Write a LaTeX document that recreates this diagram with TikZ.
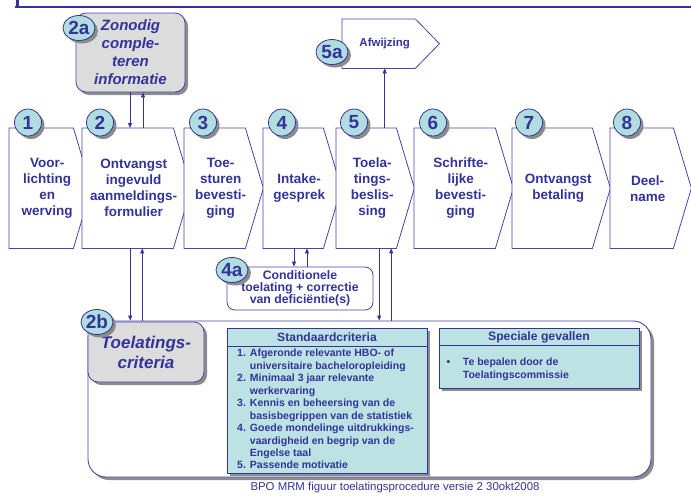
\documentclass[tikz,border=0pt]{standalone}
\usepackage{fontspec}
\setmainfont{Liberation Sans}
\usetikzlibrary{arrows.meta,shapes.geometric,shadows,calc}
\definecolor{dblue}{HTML}{333399}
\definecolor{lblue}{HTML}{4646A6}
\definecolor{cyanfill}{HTML}{BCE2E4}
\definecolor{circfill}{HTML}{B2DDE0}
\definecolor{grayfill}{HTML}{DCDCDC}
\pgfdeclarelayer{bg}
\pgfsetlayers{bg,main}
\tikzset{
  every node/.style={text=dblue},
  shadowed/.style={drop shadow={shadow xshift=3pt, shadow yshift=-3pt, opacity=1, fill=black!45}},
  stepbox/.style={minimum height=120pt, inner sep=0pt, align=center, anchor=north west,
    font=\fontsize{13.5}{16}\selectfont\bfseries},
  stepshape/.style={draw=lblue, fill=white, line width=0.8pt},
  numc/.style={circle, draw=dblue, fill=circfill, line width=0.8pt, minimum size=27pt, inner sep=0pt,
    font=\fontsize{19}{19}\selectfont\bfseries, shadowed},
  nume/.style={ellipse, draw=dblue, fill=circfill, line width=0.8pt, minimum width=32pt, minimum height=25pt,
    inner sep=0pt, font=\fontsize{19}{19}\selectfont\bfseries, shadowed},
  graybox/.style={rectangle, rounded corners=10pt, draw=lblue, fill=grayfill, line width=0.8pt,
    inner sep=0pt, align=center, shadowed},
  whitebox/.style={rectangle, rounded corners=8pt, draw=lblue, fill=white, line width=0.8pt, inner sep=0pt},
  bigbox/.style={rectangle, rounded corners=18pt, draw=lblue, fill=white, line width=0.9pt,
    inner sep=0pt, shadowed},
  critbox/.style={rectangle, draw=dblue, fill=cyanfill, line width=0.8pt, inner sep=0pt, shadowed},
  arr/.style={draw=dblue, line width=0.8pt, -{Triangle[length=5pt,width=4pt]}},
}
\begin{document}
\begin{tikzpicture}[x=1pt,y=-1pt]
\useasboundingbox (0,0) rectangle (691,496);

% top rule
\draw[dblue, line width=2pt] (15,7) -- (691,7);
\draw[dblue, line width=3pt] (17.5,0) -- (17.5,7);

% process steps
\node[stepbox, minimum width=76pt]  (s1) at (9,128)   {Voor-\\lichting\\en\\werving};
\node[stepbox, minimum width=103pt] (s2) at (82,128)  {Ontvangst\\ingevuld\\aanmeldings-\\formulier};
\node[stepbox, minimum width=73pt]  (s3) at (184,128) {Toe-\\sturen\\bevesti-\\ging};
\node[stepbox, minimum width=72pt]  (s4) at (263,128) {Intake-\\gesprek};
\node[stepbox, minimum width=72pt]  (s5) at (336,128) {Toela-\\tings-\\beslis-\\sing};
\node[stepbox, minimum width=93pt]  (s6) at (414,128) {Schrifte-\\lijke\\bevesti-\\ging};
\node[stepbox, minimum width=92pt]  (s7) at (512,128) {Ontvangst\\betaling};
\node[stepbox, minimum width=75pt]  (s8) at (610,128) {Deel-\\name};

\begin{pgfonlayer}{bg}
\foreach \n in {1,...,8} {
  \draw[stepshape] (s\n.north west) -- ([xshift=-12pt]s\n.north east) -- ([xshift=6pt]s\n.east)
    -- ([xshift=-12pt]s\n.south east) -- (s\n.south west) -- cycle;
}
\end{pgfonlayer}

% 5a Afwijzing
\node[minimum width=85pt, minimum height=49pt, inner sep=0pt, anchor=north west,
  font=\fontsize{11.5}{13}\selectfont\bfseries] (a5) at (342,19) {Afwijzing};
\begin{pgfonlayer}{bg}
\draw[stepshape] (a5.north west) -- ([xshift=-12pt]a5.north east) -- ([xshift=12pt]a5.east)
  -- ([xshift=-12pt]a5.south east) -- (a5.south west) -- cycle;
\end{pgfonlayer}

% 2a box
\node[graybox, minimum width=109pt, minimum height=79pt,
  font=\fontsize{15}{18}\selectfont\bfseries\itshape] (z2a) at (130.5,52.5)
  {Zonodig\\comple-\\teren\\informatie};

% 4a box
\node[whitebox, minimum width=146pt, minimum height=43pt] (z4a) at (300,288.5) {};
\node[align=center, inner sep=0pt, font=\fontsize{12.3}{12.3}\selectfont\bfseries] (t4a) at (z4a.center)
  {Conditionele\\toelating + correctie\\van deficiëntie(s)};

% big container
\node[bigbox, minimum width=563pt, minimum height=156pt] (big) at (369.5,399) {};

% 2b box
\node[graybox, minimum width=116pt, minimum height=60pt,
  font=\fontsize{17}{20}\selectfont\bfseries\itshape] (z2b) at (146,352)
  {Toelatings-\\criteria};

% Standaardcriteria
\node[critbox, minimum width=200pt, minimum height=145pt] (std) at (327,400.5) {};
\draw[dblue, line width=0.8pt] ([yshift=-19pt]std.north west) -- ([yshift=-19pt]std.north east);
\node[font=\fontsize{12.1}{14}\selectfont\bfseries] (stdh) at (327,337.5) {Standaardcriteria};
\node[anchor=north west, inner sep=0pt, font=\fontsize{10.5}{12.45}\selectfont\bfseries] (stdl) at (237,348)
{\begin{tabular}{@{}r@{\hspace{4pt}}l@{}}
1. & Afgeronde relevante HBO- of\\
   & universitaire bacheloropleiding\\
2. & Minimaal 3 jaar relevante\\
   & werkervaring\\
3. & Kennis en beheersing van de\\
   & basisbegrippen van de statistiek\\
4. & Goede mondelinge uitdrukkings-\\
   & vaardigheid en begrip van de\\
   & Engelse taal\\
5. & Passende motivatie
\end{tabular}};

% Speciale gevallen
\node[critbox, minimum width=200pt, minimum height=60pt] (spc) at (539,358) {};
\draw[dblue, line width=0.8pt] ([yshift=-18pt]spc.north west) -- ([yshift=-18pt]spc.north east);
\node[font=\fontsize{12.2}{14}\selectfont\bfseries] (spch) at (539,337) {Speciale gevallen};
\node[anchor=north west, inner sep=0pt, font=\fontsize{10.5}{12.45}\selectfont\bfseries] (spcl) at (446.5,357)
{\begin{tabular}{@{}l@{\hspace{12.5pt}}l@{}}
• & Te bepalen door de\\
  & Toelatingscommissie
\end{tabular}};

% number circles
\node[numc] (c1) at (28,122.5)  {1};
\node[numc] (c2) at (100,122.5) {2};
\node[numc] (c3) at (203,122.5) {3};
\node[numc] (c4) at (282,122.5) {4};
\node[numc] (c5) at (354,122.5) {5};
\node[numc] (c6) at (433,122.5) {6};
\node[numc] (c7) at (529,122.5) {7};
\node[numc] (c8) at (627,122.5) {8};
\node[nume] (e2a) at (79,28)   {2a};
\node[nume] (e5a) at (332,52)  {5a};
\node[nume] (e4a) at (232,270) {4a};
\node[nume] (e2b) at (97,322)  {2b};

% connectors
\draw[arr] ([xshift=-0.5pt]z2a.south) -- ([xshift=-0.5pt]z2a.south |- s2.north);
\draw[arr] ([xshift=12.5pt]z2a.south |- s2.north) -- ([xshift=12.5pt]z2a.south);
\draw[arr] (a5.south |- s5.north) -- (a5.south);
\draw[arr] ([xshift=-6pt]z4a.north |- s4.south) -- ([xshift=-6pt]z4a.north);
\draw[arr] ([xshift=7pt]z4a.north) -- ([xshift=7pt]z4a.north |- s4.south);
\draw[arr] ([xshift=7pt]s5.south) -- ([xshift=7pt]s5.south |- big.north);
\draw[arr] ([xshift=19pt]s5.south |- big.north) -- ([xshift=19pt]s5.south);
\draw[arr] ([xshift=-3.5pt]s2.south) -- ([xshift=-3.5pt]s2.south |- big.north);
\draw[arr] ([xshift=8.5pt]s2.south |- big.north) -- ([xshift=8.5pt]s2.south);

% footer
\node[font=\fontsize{11.4}{13}\selectfont] (foot) at (395,488) {BPO MRM figuur toelatingsprocedure versie 2 30okt2008};
\end{tikzpicture}
\end{document}
